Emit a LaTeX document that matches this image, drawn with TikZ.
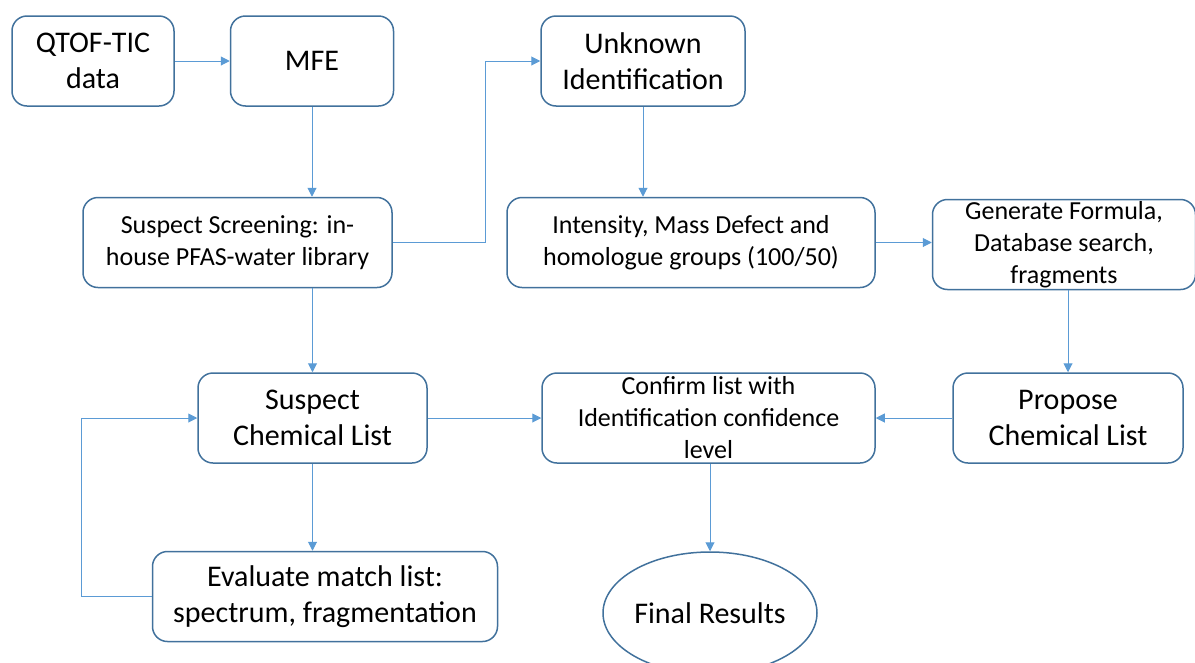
\documentclass[tikz,border=0pt]{standalone}
\usepackage{fontspec}
\setmainfont{Carlito}
\usepackage{tikz}
\usetikzlibrary{arrows.meta, shapes.geometric, positioning, calc}
\definecolor{boxblue}{HTML}{41719C}
\definecolor{linkblue}{HTML}{5B9BD5}
\tikzset{%
    nodesty/.style={
        rounded corners=15pt,
        draw=boxblue,
        line width=1.5pt,
        align=center,
        inner sep=0pt,
        minimum height=90pt,
        font=\fontsize{30}{36}\selectfont,
    },
    snodesty/.style={
        nodesty,
        font=\fontsize{26}{32}\selectfont,
    },
    endsty/.style={
        ellipse,
        draw=boxblue,
        line width=1.5pt,
        inner sep=0pt,
        minimum width=213pt,
        minimum height=122pt,
        font=\fontsize{30}{36}\selectfont,
    },
    linksty/.style={
        draw=linkblue,
        line width=1pt,
        -{Triangle[length=9pt,width=9pt]},
    },
}
\begin{document}
\begin{tikzpicture}[x=1pt,y=-1pt]
\useasboundingbox (0,0) rectangle (1195,662);

% top row
\node (data) [nodesty,minimum width=162pt] at (93,61) {QTOF-TIC\\data};
\node (mfe) [nodesty,right=55pt of data,minimum width=163pt] {MFE};
\node (unknown) [nodesty,minimum width=204pt] at (643,61) {Unknown\\Identification};

% screening row
\node (screen) [snodesty,minimum width=309pt] at (237.5,242.5) {Suspect Screening: in-\\house PFAS-water library};
\node (intens) [snodesty,minimum width=368pt] at (691,242.5) {Intensity, Mass Defect and\\homologue groups (100/50)};
\node (gener) [snodesty,right=56pt of intens,yshift=-2pt,minimum width=263pt] {Generate Formula,\\Database search,\\fragments};

% list row
\node (susp) [nodesty,minimum width=229pt] at (312.5,418) {Suspect\\Chemical List};
\node (confirm) [snodesty,minimum width=333pt] at (708.5,418) {Confirm list with\\Identification confidence\\level};
\node (propose) [nodesty,minimum width=230pt] at (1068,418) {Propose\\Chemical List};

% bottom row
\node (eval) [nodesty,minimum width=345pt] at (325,596.5) {Evaluate match list:\\spectrum, fragmentation};
\node (final) [endsty] at (710,613) {Final Results};

% links
\draw [linksty] (data) -- (mfe);
\draw [linksty] (mfe) -- (mfe |- screen.north);
\draw [linksty] (screen.east) -- ++(93,0) |- (unknown);
\draw [linksty] (unknown) -- (unknown |- intens.north);
\draw [linksty] (intens.east) -- (intens.east -| gener.west);
\draw [linksty] (propose.north |- gener.south) -- (propose.north);
\draw [linksty] (propose) -- (confirm);
\draw [linksty] (susp.north |- screen.south) -- (susp.north);
\draw [linksty] (susp) -- (confirm);
\draw [linksty] (susp) -- (susp |- eval.north);
\draw [linksty] (eval.west) -- ++(-70,0) |- (susp);
\draw [linksty] (confirm.south -| final.north) -- (final);

\end{tikzpicture}
\end{document}
